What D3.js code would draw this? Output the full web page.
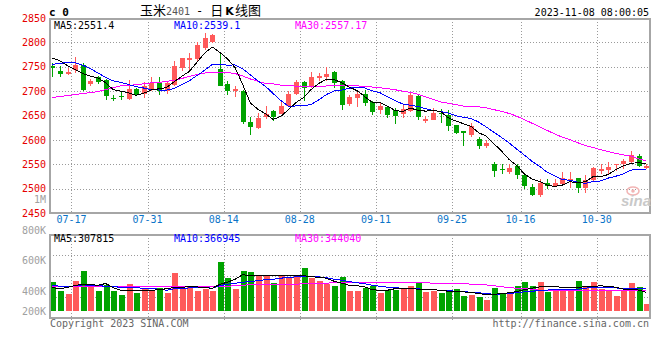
<!DOCTYPE html>
<html><head><meta charset="utf-8">
<script src="https://cdn.jsdelivr.net/npm/d3@7"></script>
<style>body{margin:0;background:#fff}svg{display:block}</style>
</head><body><svg id="c" width="660" height="360"></svg>
<script>
const dates = ["07-12","07-13","07-14","07-17","07-18","07-19","07-20","07-21","07-24","07-25","07-26","07-27","07-28",
"07-31","08-01","08-02","08-03","08-04","08-07","08-08","08-09","08-10","08-11","08-14","08-15","08-16","08-17","08-18",
"08-21","08-22","08-23","08-24","08-25","08-28","08-29","08-30","08-31","09-01","09-04","09-05","09-06","09-07","09-08",
"09-11","09-12","09-13","09-14","09-15","09-18","09-19","09-20","09-21","09-22","09-25","09-26","09-27","09-28",
"10-09","10-10","10-11","10-12","10-13","10-16","10-17","10-18","10-19","10-20","10-23","10-24","10-25","10-26","10-27",
"10-30","10-31","11-01","11-02","11-03","11-06","11-07"];
const open = [2752,2742,2735,2744,2754,2715,2729,2723,2686,2690,2684,2704,2694,2704,2717,2700,2713,2747,2765,2766,
2788,2801,2745,2715,2700,2701,2637,2624,2647,2659,2654,2669,2695,2718,2708,2727,2730,2740,2720,2674,
2685,2694,2677,2661,2667,2662,2654,2659,2691,2640,2641,2656,2652,2630,2618,2610,2601,2588,2550,2540,
2534,2546,2527,2504,2487,2512,2506,2510,2518,2522,2501,2517,2537,2539,2548,2550,2554,2567,2542];
const high = [2757,2752,2747,2769,2757,2725,2731,2725,2693,2698,2723,2706,2719,2728,2728,2720,2762,2768,2778,2800,
2820,2817,2781,2720,2711,2703,2647,2655,2670,2662,2681,2700,2722,2720,2740,2737,2749,2741,2722,2693,
2700,2703,2679,2678,2668,2666,2672,2696,2693,2649,2666,2664,2662,2631,2619,2635,2605,2600,2554,2550,
2550,2550,2530,2510,2520,2519,2520,2534,2535,2522,2527,2544,2550,2554,2550,2561,2578,2571,2550];
const low = [2728,2730,2734,2737,2700,2710,2715,2681,2679,2681,2681,2689,2686,2701,2693,2695,2711,2742,2744,2761,
2784,2798,2710,2693,2687,2633,2609,2623,2643,2639,2653,2668,2693,2679,2706,2720,2720,2706,2662,2670,
2667,2670,2652,2654,2645,2632,2645,2657,2641,2634,2640,2635,2618,2612,2588,2605,2581,2583,2524,2530,
2529,2519,2500,2485,2483,2500,2503,2508,2501,2491,2492,2515,2530,2530,2537,2540,2550,2544,2540];
const close = [2747,2736,2740,2754,2703,2720,2719,2689,2683,2688,2704,2693,2710,2717,2700,2717,2752,2767,2767,2794,
2810,2815,2711,2700,2705,2637,2626,2645,2654,2647,2669,2695,2718,2706,2730,2731,2735,2717,2672,2687,
2694,2676,2657,2669,2651,2649,2664,2693,2647,2642,2656,2653,2628,2614,2615,2628,2588,2593,2537,2538,
2542,2527,2506,2486,2512,2506,2512,2521,2520,2501,2517,2542,2540,2545,2550,2556,2569,2546,2547];
const ma5 = [2768,2762,2752,2744,2736,2730.6,2727.2,2717,2702.8,2699.8,2696.6,2691.4,2695.6,2702.4,2704.8,2707.4,2719.2,2730.6,2740.6,2759.4,
2778,2790.6,2779.4,2766,2748.2,2713.6,2675.8,2662.6,2653.4,2641.8,2648.2,2662,2676.6,2687,2703.6,2716,2724,2723.8,2717,2708.4,
2701,2689.2,2677.2,2676.6,2669.4,2660.4,2658,2665.2,2660.8,2659,2660.4,2658.2,2645.2,2638.6,2633.2,2627.6,2614.6,2607.6,2592.2,2576.8,
2559.6,2547.4,2530,2519.8,2514.6,2507.4,2504.4,2507.4,2514.2,2512,2514.2,2524.2,2524,2529,2538.8,2546.6,2552,2553.2,2551.4];
const ma10 = [2755,2757,2759,2758,2753,2746,2737,2728,2721,2717.9,2713.6,2709.3,2706.3,2702.6,2702.3,2702,2705.3,2713.1,2721.5,2732.1,
2742.7,2754.9,2755,2753.3,2753.8,2745.8,2733.2,2721,2709.7,2695,2680.9,2668.9,2669.6,2670.2,2672.7,2682.1,2693,2700.2,2702,2706,
2708.5,2706.6,2700.5,2696.8,2688.9,2680.7,2673.6,2671.2,2668.7,2664.2,2660.4,2658.1,2655.2,2649.7,2646.1,2644,2636.4,2626.4,2615.4,2605,
2593.6,2581,2568.8,2556,2545.7,2533.5,2525.9,2518.7,2517,2513.3,2510.8,2514.3,2515.7,2521.6,2525.4,2530.4,2538.1,2538.6,2539.1];
const ma30 = [2687,2689,2691,2693,2695,2697,2699,2703,2707,2711,2712,2713,2715,2717,2718,2720,2722,2726,2730,2734,
2737,2739,2739,2738,2736,2731,2725,2720,2716,2715,2712.4,2711,2710.3,2708.7,2709.6,2710,2710.5,2711.4,2711.1,2711,
2710.7,2710.1,2708.4,2706.8,2705.1,2702.9,2699.9,2697.5,2693.5,2688.4,2683.3,2677.9,2675.1,2672.2,2669.2,2668.9,2667.7,2665.9,2662,2658.4,
2654.2,2648.6,2641.5,2634.2,2626.9,2619.4,2612,2605.4,2600.4,2594.2,2588.3,2584.5,2579.9,2575.8,2572.4,2569.3,2566.8,2561.2,2557.17];
// volume in thousands
const volume = [483,327,279,499,666,396,332,426,332,266,446,299,377,332,387,299,633,377,416,321,
361,321,817,549,367,666,651,596,596,468,579,541,585,718,551,496,441,412,568,329,
329,384,412,301,346,346,384,412,479,317,329,291,317,362,245,262,224,179,374,274,
274,412,479,412,479,317,362,346,362,496,412,479,362,346,251,329,468,396,112];
const volMa5 = [384,367,392,420,442,434,425,454,384,342,334,342,342,342,350,367,387,395,397,397,
384,375,442,476,526,601,584,581,581,581,581,592,592,584,567,559,542,492,459,425,
417,400,350,342,342,367,375,375,359,359,350,342,325,320,314,304,287,267,275,284,
300,320,350,375,397,404,400,392,379,384,404,409,414,409,392,360,352,345,307.815];
const volMa10 = [425,409,400,417,431,425,417,409,400,392,387,384,375,375,359,342,367,375,380,384,
387,375,417,442,459,476,487,501,517,526,542,559,564,564,564,564,551,526,509,487,
467,451,425,409,392,384,375,370,364,359,350,342,334,325,317,309,300,284,275,280,
287,300,314,325,337,345,354,359,359,359,375,392,392,387,380,372,370,368,366.945];
const volMa30 = [400,400,400,400,400,400,400,400,400,400,400,400,400,400,400,400,400,400,400,400,
400,400,400,409,417,425,434,442,442,442,442,442,442,451,459,459,459,471,471,471,
471,471,471,471,471,471,467,467,467,467,459,459,459,454,454,442,442,431,417,400,
387,375,370,359,342,342,342,342,342,342,342,342,342,342,342,342,342,342,344.04];
const priceTicks = [2450,2500,2550,2600,2650,2700,2750,2800,2850];
const dateTicks = ["07-17","07-31","08-14","08-28","09-11","09-25","10-16","10-30"];
const volTickValues = [1000,800,600,400,200];
const volTickLabels = ["1M","800K","600K","400K","200K"];

const RED = "#ff5a5a", GREEN = "#00a300", MONO = "'DejaVu Sans Mono', monospace";
const L = 50, R = 650, PT = 18, PB = 213, VT = 234.5, VB = 317.5, VBASE = 310.7;
const svg = d3.select("#c");
svg.append("rect").attr("width",660).attr("height",360).attr("fill","#fff");

const x = d3.scaleBand().domain(dates).range([48.6, R]);
const bw = x.bandwidth();
const cx = d => x(d) + bw/2;
const y = d3.scaleLinear().domain([2450,2850]).range([PB, PT]);
const yv = d3.scaleLinear().domain([0,1000]).range([VBASE, VBASE - 1000/16.7]);
const yvLabel = d3.scaleLinear().domain([400,800]).range([291,230]);

// grid
const grid = svg.append("g").attr("stroke","#9a9a9a").attr("stroke-dasharray","1,2").attr("shape-rendering","crispEdges").attr("fill","none");
grid.selectAll(".h").data(priceTicks.slice(1,-1)).join("line")
  .attr("x1",L).attr("x2",R).attr("y1",d=>Math.round(y(d))+0.5).attr("y2",d=>Math.round(y(d))+0.5);
grid.selectAll(".v").data(dateTicks).join("line")
  .attr("x1",d=>Math.round(x(d))+0.5).attr("x2",d=>Math.round(x(d))+0.5).attr("y1",PT+1).attr("y2",PB);
grid.selectAll(".vv").data(dateTicks).join("line")
  .attr("x1",d=>Math.round(x(d))+0.5).attr("x2",d=>Math.round(x(d))+0.5).attr("y1",VT).attr("y2",VB+3);
grid.selectAll(".vh").data([1,2,3]).join("line")
  .attr("x1",L).attr("x2",R).attr("y1",d=>Math.round(VT+(VB-VT)*d/4)+0.5).attr("y2",d=>Math.round(VT+(VB-VT)*d/4)+0.5);

// candles
const idx = d3.range(dates.length);
const cg = svg.append("g").attr("shape-rendering","crispEdges");
cg.selectAll("line").data(idx).join("line")
  .attr("x1",i=>Math.round(cx(dates[i]))+0.5).attr("x2",i=>Math.round(cx(dates[i]))+0.5)
  .attr("y1",i=>y(high[i])).attr("y2",i=>y(low[i]))
  .attr("stroke",i=>close[i]>=open[i]?RED:GREEN).attr("stroke-width",1);
cg.selectAll("rect").data(idx).join("rect")
  .attr("x",i=>Math.round(cx(dates[i]))-2).attr("width",5)
  .attr("y",i=>y(Math.max(open[i],close[i])))
  .attr("height",i=>Math.max(1.2, y(Math.min(open[i],close[i]))-y(Math.max(open[i],close[i]))))
  .attr("fill",i=>close[i]>=open[i]?RED:GREEN);

// price MA lines
const pline = arr => d3.line().x((d,i)=>cx(dates[i])).y(d=>y(d))(arr);
[[ma30,"#ff00ff"],[ma10,"#0000ff"],[ma5,"#000000"]].forEach(([a,c])=>{
  svg.append("path").attr("d",pline(a)).attr("fill","none").attr("stroke",c).attr("stroke-width",1).attr("shape-rendering","crispEdges");
});

// volume bars
const vg = svg.append("g").attr("shape-rendering","crispEdges");
vg.selectAll("rect").data(idx).join("rect")
  .attr("x",i=>Math.round(cx(dates[i]))-2.5).attr("width",6)
  .attr("y",i=>yv(volume[i])).attr("height",i=>yv(0)-yv(volume[i]))
  .attr("fill",i=>close[i]>=open[i]?RED:GREEN);
const vline = arr => d3.line().x((d,i)=>cx(dates[i])).y(d=>yv(d))(arr);
[[volMa30,"#ff00ff"],[volMa10,"#0000ff"],[volMa5,"#000000"]].forEach(([a,c])=>{
  svg.append("path").attr("d",vline(a)).attr("fill","none").attr("stroke",c).attr("stroke-width",1).attr("shape-rendering","crispEdges");
});

// frames
const fr = svg.append("g").attr("fill","none").attr("stroke","#a6a6a6").attr("stroke-width",2).attr("shape-rendering","crispEdges");
fr.append("rect").attr("x",L).attr("y",19).attr("width",R-L).attr("height",PB-19);
fr.append("rect").attr("x",L).attr("y",VT).attr("width",R-L).attr("height",VB-VT);

// price axis
const ya = svg.append("g").attr("transform",`translate(${L},0)`)
  .call(d3.axisLeft(y).tickValues(priceTicks).tickSize(0).tickPadding(4).tickFormat(d3.format("d")));
ya.select(".domain").remove();
ya.selectAll("text").attr("fill","#e60000").attr("font-family",MONO).attr("font-size",10);

// date axis (labels centred on the grid line at each slot start)
const xa = svg.append("g").attr("transform",`translate(0,${PB})`)
  .call(d3.axisBottom(x.copy().range([48.6-bw/2, R-bw/2])).tickValues(dateTicks).tickSize(0).tickPadding(3));
xa.select(".domain").remove();
xa.selectAll("text").attr("fill","#0a74c8").attr("font-family",MONO).attr("font-size",10);

// volume axis labels
svg.append("g").selectAll("text").data(volTickValues).join("text")
  .attr("x",46).attr("y",d=>Math.min(yvLabel(d),311)).attr("dy","0.35em")
  .attr("text-anchor","end").attr("font-family",MONO).attr("font-size",10).attr("fill","#a0a0a0")
  .text((d,i)=>volTickLabels[i]);

// header
svg.append("text").attr("x",49).attr("y",16).attr("font-family",MONO).attr("font-weight","bold").attr("font-size",11).text("c 0");
const t = svg.append("text").attr("x",140).attr("y",15).attr("font-family","'Noto Sans CJK SC'").attr("font-size",13).attr("fill","#000");
t.append("tspan").text("玉米");
t.append("tspan").attr("font-family",MONO).attr("font-size",10).attr("fill","#555").text("2401");
t.append("tspan").attr("dx",6).attr("font-family",MONO).attr("font-size",12).text("-");
t.append("tspan").attr("dx",7).text("日");
t.append("tspan").attr("dx",2).attr("font-family","'DejaVu Sans'").attr("font-weight","bold").attr("font-size",11).text("K");
t.append("tspan").attr("dx",1).text("线图");
svg.append("text").attr("x",649).attr("y",16).attr("text-anchor","end").attr("font-family",MONO).attr("font-size",10).text("2023-11-08 08:00:05");

const last = dates.length-1;
const hdr = (yy, items) => items.forEach(([xx,c,s]) =>
  svg.append("text").attr("x",xx).attr("y",yy).attr("font-family",MONO).attr("font-size",10).attr("fill",c).text(s));
hdr(28.5, [[54,"#000",`MA5:${ma5[last]}`],[174,"#0000ff",`MA10:${ma10[last]}`],[295,"#ff00ff",`MA30:${ma30[last]}`]]);
hdr(241.5, [[54,"#000",`MA5:${Math.round(volMa5[last]*1000)}`],[174,"#0000ff",`MA10:${Math.round(volMa10[last]*1000)}`],[295,"#ff00ff",`MA30:${Math.round(volMa30[last]*1000)}`]]);

// footer
svg.append("text").attr("x",50).attr("y",327).attr("font-family",MONO).attr("font-size",10).attr("fill","#666").text("Copyright 2023 SINA.COM");
svg.append("text").attr("x",649).attr("y",327).attr("text-anchor","end").attr("font-family",MONO).attr("font-size",10).attr("fill","#666").text("http://finance.sina.com.cn");

// sina watermark
svg.append("ellipse").attr("cx",633).attr("cy",191).attr("rx",6).attr("ry",4).attr("fill","none").attr("stroke","#f2b4b4").attr("stroke-width",1.5);
svg.append("circle").attr("cx",633).attr("cy",191).attr("r",1.8).attr("fill","#f2b4b4");
svg.append("text").attr("x",636).attr("y",206).attr("text-anchor","middle").attr("font-family","'Liberation Sans'").attr("font-style","italic").attr("font-weight","bold").attr("font-size",15).attr("fill","#c9c9c9").text("sina");
</script></body></html>
